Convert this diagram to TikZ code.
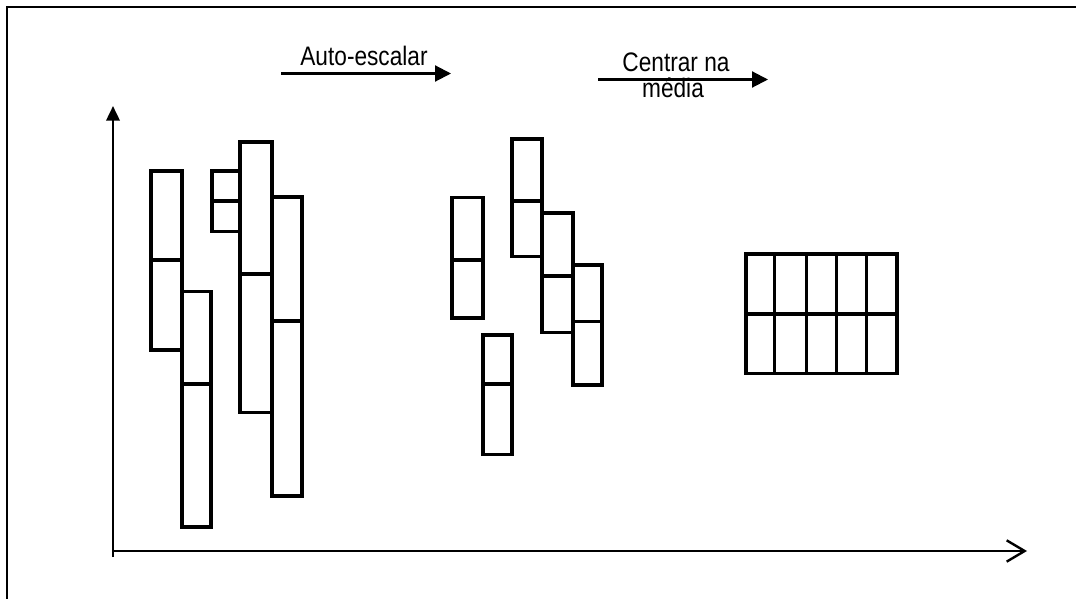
\documentclass[tikz,border=0pt]{standalone}
\usepackage{fontspec}
\setmainfont{Liberation Sans}
\usetikzlibrary{arrows.meta}
\tikzset{
  box/.style={line width=2.4pt, draw=black},
  midline/.style={line width=2.3pt, draw=black},
  frameline/.style={line width=1.8pt, draw=black},
  axis/.style={line width=1.9pt, draw=black},
  steparrow/.style={line width=1.6pt, -{Triangle[length=12pt,width=12pt]}},
  lbl/.style={font=\fontsize{17}{19}\selectfont, inner sep=0pt}
}
\newcommand{\splitbox}[5]{%
  \draw[box] (#1,#3) rectangle (#2,#4);
  \draw[midline] (#1,#5) -- (#2,#5);}
\newcommand{\tallText}[1]{\scalebox{1}[1.18]{#1}}
\begin{document}
\begin{tikzpicture}[x=0.75pt,y=-0.75pt]
\useasboundingbox (0,0) rectangle (1076,599);
% frame
\draw[frameline] (7,605) -- (7,7) -- (1080,7);
% axes
\coordinate (origin) at (113,551);
\coordinate (ytop) at (113,106);
\coordinate (ybot) at (113,557);
\coordinate (xend) at (1027,551);
\draw[axis, -{Triangle[length=11pt,width=10pt]}] (ybot) -- (ytop);
\draw[axis, -{Straight Barb[length=13.5pt,width=16pt,line width=1.8pt]}] (origin) -- (xend);
% left group
\splitbox{151}{182}{171}{350}{260}
\splitbox{182}{211}{291.5}{527}{384}
\splitbox{212}{240}{171}{231.5}{201}
\splitbox{240}{272}{142}{412.5}{274}
\splitbox{272}{302}{197}{496}{321}
% middle group
\splitbox{452}{483}{197.5}{318}{260}
\splitbox{483}{512}{335}{454.5}{384}
\splitbox{512}{542}{139}{256.5}{201}
\splitbox{542}{573}{213}{332.5}{276}
\splitbox{573}{602}{265}{385}{321.5}
% right grid
\draw[box] (746,254) rectangle (897,373.5);
\foreach \xx in {774.5,806.5,836.5,866.5}
  \draw[box] (\xx,254) -- (\xx,373.5);
\draw[midline] (746,314) -- (897,314);
% step arrows with labels
\coordinate (a1s) at (281,73.5);
\coordinate (a1e) at (451,73.5);
\draw[steparrow] (a1s) -- (a1e);
\node[lbl, anchor=base] (t1) at (364,66) {\tallText{Auto-escalar}};
\coordinate (a2s) at (598,79.5);
\coordinate (a2e) at (768,79.5);
\draw[steparrow] (a2s) -- (a2e);
\node[lbl, anchor=base] (t2a) at (676,71.5) {\tallText{Centrar na}};
\node[lbl, anchor=base] (t2b) at (673,98) {\tallText{média}};
\end{tikzpicture}
\end{document}
